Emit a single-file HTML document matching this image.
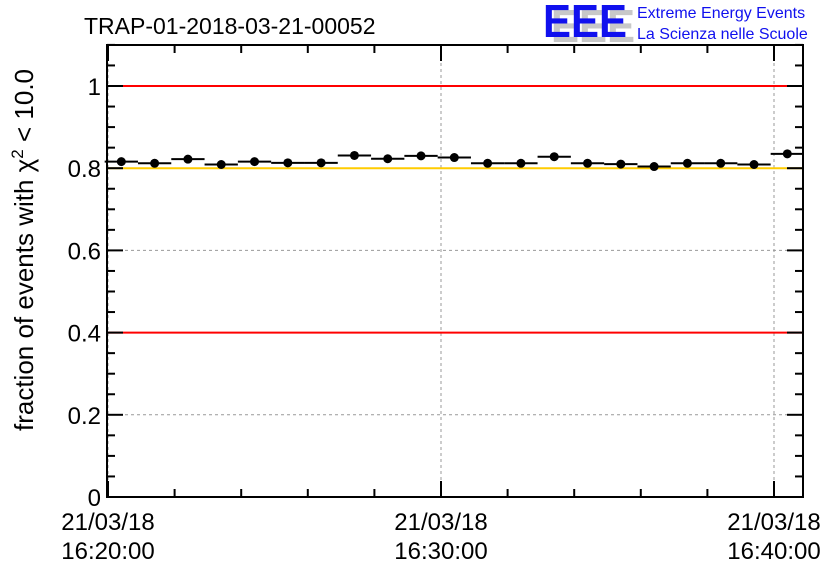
<!DOCTYPE html>
<html><head><meta charset="utf-8"><style>
body{margin:0;background:#fff;}
svg{display:block;font-family:"Liberation Sans",sans-serif;}
</style></head><body>
<svg id="chart" width="836" height="572" xmlns="http://www.w3.org/2000/svg">
<text x="84" y="34" font-size="23">TRAP-01-2018-03-21-00052</text>
<g>
<text x="551" y="42" font-size="46" font-weight="bold" fill="#c8c8c8" textLength="84" lengthAdjust="spacingAndGlyphs">EEE</text>
<text x="543" y="37" font-size="46" font-weight="bold" fill="#1010ee" textLength="84" lengthAdjust="spacingAndGlyphs">EEE</text>
<text x="637" y="18" font-size="16" fill="#1010ee">Extreme Energy Events</text>
<text x="637" y="39" font-size="16" fill="#1010ee">La Scienza nelle Scuole</text>
</g>
<text transform="translate(33,250) rotate(-90)" text-anchor="middle" font-size="26">fraction of events with χ<tspan dy="-10" font-size="17">2</tspan><tspan dy="10"> &lt; 10.0</tspan></text>
<g id="plot"></g>
</svg>
<script>
const values = [0.816,0.812,0.822,0.809,0.816,0.813,0.813,0.831,0.823,0.830,0.826,0.812,0.812,0.828,0.812,0.810,0.804,0.812,0.812,0.809,0.835];
const minutesFromStart = [0.4,1.4,2.4,3.4,4.4,5.4,6.4,7.4,8.4,9.4,10.4,11.4,12.4,13.4,14.4,15.4,16.4,17.4,18.4,19.4,20.4];
const yTickLabels = ["0","0.2","0.4","0.6","0.8","1"];
const yTickValues = [0,0.2,0.4,0.6,0.8,1];
const xTickMinutes = [0,10,20];
const xTickLabels = [["21/03/18","16:20:00"],["21/03/18","16:30:00"],["21/03/18","16:40:00"]];
const refLines = [{v:1,c:"#ff0000",n:"upper-limit-line"},{v:0.8,c:"#ffcc00",n:"target-line"},{v:0.4,c:"#ff0000",n:"lower-limit-line"}];
const L=107,R=803,T=45,B=497;
const X=m=>108+m*33.3;
const Y=v=>B-v*411;
const NS="http://www.w3.org/2000/svg";
const g=document.getElementById('plot');
function mk(tag,attrs){const e=document.createElementNS(NS,tag);for(const k in attrs)e.setAttribute(k,attrs[k]);g.appendChild(e);return e;}
yTickValues.forEach(v=>{if(v>0&&v<1){const e=mk('line',{x1:L,x2:R,y1:Y(v),y2:Y(v),stroke:'#999','stroke-dasharray':'3,3','stroke-width':1});

}});
xTickMinutes.forEach(m=>{const e=mk('line',{x1:X(m),x2:X(m),y1:T,y2:B,stroke:'#999','stroke-dasharray':'3,3','stroke-width':1});

});
refLines.forEach(r=>{const e=mk('line',{x1:L,x2:R,y1:Y(r.v),y2:Y(r.v),stroke:r.c,'stroke-width':2});

});
const fr=mk('rect',{x:L,y:T,width:R-L,height:B-T,fill:'none',stroke:'#000','stroke-width':2});


for(let i=0;i<=22;i++){const v=i*0.05;const major=i%4===0;const len=major?16:8;
mk('line',{x1:L,x2:L+len,y1:Y(v),y2:Y(v),stroke:'#000','stroke-width':2});
mk('line',{x1:R,x2:R-len,y1:Y(v),y2:Y(v),stroke:'#000','stroke-width':2});}
yTickValues.forEach((v,i)=>{const t=mk('text',{x:L-6,y:Y(v)+9,'text-anchor':'end','font-size':24});t.textContent=yTickLabels[i];

});
for(let m=0;m<=20;m+=2){const major=m%10===0;const len=major?16:8;
mk('line',{x1:X(m),x2:X(m),y1:B,y2:B-len,stroke:'#000','stroke-width':2});
mk('line',{x1:X(m),x2:X(m),y1:T,y2:T+len,stroke:'#000','stroke-width':2});}
xTickMinutes.forEach((m,i)=>{const t=mk('text',{x:X(m),y:530,'text-anchor':'middle','font-size':24});t.textContent=xTickLabels[i][0];


const t2=mk('text',{x:X(m),y:559,'text-anchor':'middle','font-size':24});t2.textContent=xTickLabels[i][1];

});
values.forEach((v,i)=>{const m=minutesFromStart[i];
const l=mk('line',{x1:X(m-0.5),x2:X(m+0.5),y1:Y(v),y2:Y(v),stroke:'#000','stroke-width':2});


const c=mk('circle',{cx:X(m),cy:Y(v),r:4.5,fill:'#000'});

});
</script>
</body></html>
